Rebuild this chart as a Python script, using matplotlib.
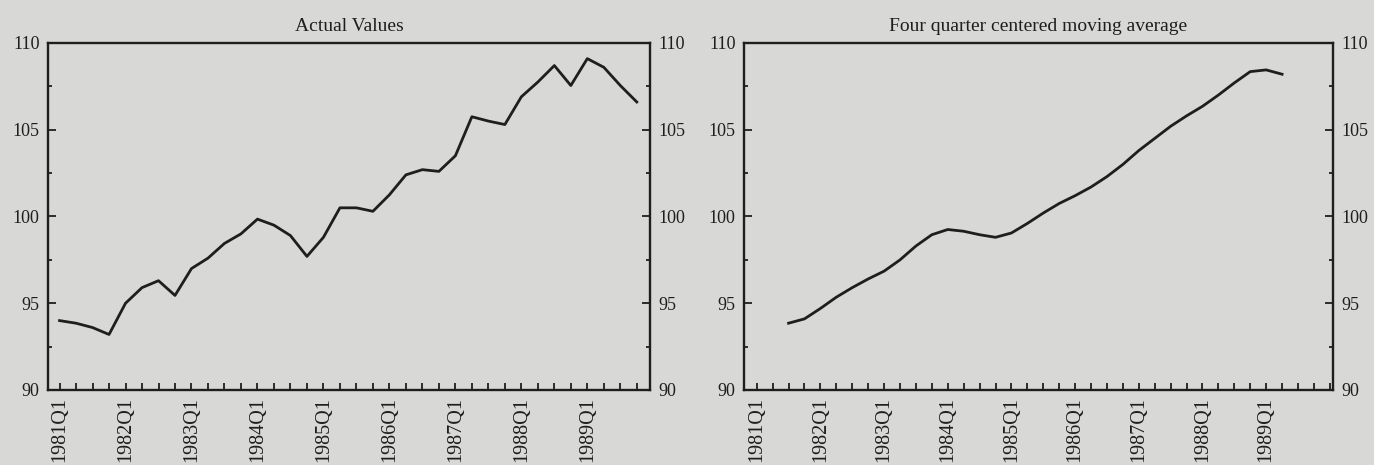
import matplotlib
matplotlib.use("Agg")
import matplotlib.pyplot as plt
from matplotlib.ticker import MultipleLocator

# quarters 1981Q1 .. 1989Q4
quarters = [f"{y}Q{q}" for y in range(1981, 1990) for q in range(1, 5)]
tick_labels = [f"{y}Q1" for y in range(1981, 1990)]

# actual values
actual = [94.0, 93.85, 93.6, 93.2, 95.0, 95.9, 96.3, 95.45,
          97.0, 97.6, 98.45, 99.0, 99.85, 99.5, 98.9, 97.7,
          98.8, 100.5, 100.5, 100.3, 101.25, 102.4, 102.7, 102.6,
          103.5, 105.75, 105.5, 105.3, 106.9, 107.75, 108.7, 107.55,
          109.1, 108.6, 107.55, 106.6]

# four quarter centered moving average, 1981Q3 .. 1989Q2
ma_start = 2
moving_avg = [93.85, 94.1, 94.7, 95.35, 95.9, 96.4, 96.85, 97.5,
              98.3, 98.95, 99.25, 99.15, 98.95, 98.8, 99.05, 99.6,
              100.2, 100.75, 101.2, 101.7, 102.3, 103.0, 103.8, 104.5,
              105.2, 105.8, 106.35, 107.0, 107.7, 108.35, 108.45, 108.2]

bg = "#d8d8d6"
ink = "#1e1e1e"
plt.rcParams["font.family"] = ["Liberation Serif", "DejaVu Serif"]
plt.rcParams["text.color"] = ink

fig = plt.figure(figsize=(13.74, 4.65), dpi=100, facecolor=bg)
ax1 = fig.add_axes([48 / 1374, 75 / 465, 602 / 1374, 347 / 465])
ax2 = fig.add_axes([744 / 1374, 75 / 465, 589 / 1374, 347 / 465])


def style(ax, title, xlim):
    ax.set_facecolor(bg)
    ax.set_xlim(*xlim)
    ax.set_ylim(90, 110)
    ax.set_title(title, fontsize=14, pad=9)
    ax.set_xticks(range(0, len(quarters), 4))
    ax.set_xticklabels(tick_labels, rotation=90, fontsize=14.5)
    ax.xaxis.set_minor_locator(MultipleLocator(1))
    ax.yaxis.set_major_locator(MultipleLocator(5))
    ax.yaxis.set_minor_locator(MultipleLocator(2.5))
    ax.tick_params(axis="x", which="both", direction="in", length=5, width=1.3,
                   top=False, pad=5, colors=ink)
    ax.tick_params(axis="y", which="major", direction="in", length=6, width=1.3,
                   left=True, right=True, labelleft=True, labelright=True,
                   labelsize=13, pad=6, colors=ink)
    ax.tick_params(axis="y", which="minor", direction="in", length=3, width=1.3,
                   left=True, right=True, colors=ink)
    for s in ax.spines.values():
        s.set_linewidth(1.7)
        s.set_color(ink)


ax1.plot(range(len(actual)), actual, color=ink, lw=2.0)
style(ax1, "Actual Values", (-0.7, 35.8))

ax2.plot(range(ma_start, ma_start + len(moving_avg)), moving_avg,
         color=ink, lw=2.0)
style(ax2, "Four quarter centered moving average", (-0.8, 36.2))

fig.savefig("out.png", dpi=100, facecolor=bg)
